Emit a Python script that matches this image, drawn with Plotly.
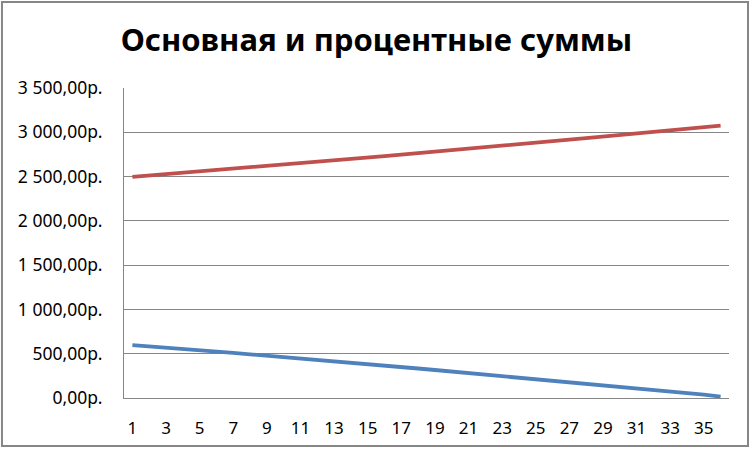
import plotly.graph_objects as go

periods = list(range(1, 37))
principal = [2497, 2512, 2527, 2542, 2558, 2573, 2588, 2604, 2619, 2635, 2651, 2667,
             2683, 2699, 2715, 2731, 2748, 2764, 2781, 2798, 2814, 2831, 2848, 2865,
             2883, 2900, 2917, 2935, 2952, 2970, 2988, 3006, 3024, 3042, 3060, 3076]
interest = [598, 585, 570, 555, 539, 524, 509, 493, 478, 462, 446, 430,
            414, 398, 382, 366, 349, 333, 316, 299, 283, 266, 249, 231,
            214, 197, 180, 162, 145, 127, 109, 91, 73, 55, 37, 16]
y_tickvals = [0, 500, 1000, 1500, 2000, 2500, 3000, 3500]
y_ticktext = ["0,00р.", "500,00р.", "1 000,00р.", "1 500,00р.", "2 000,00р.",
              "2 500,00р.", "3 000,00р.", "3 500,00р."]
x_tickvals = list(range(1, 37, 2))
title_text = "Основная и процентные суммы"

fig = go.Figure()
fig.add_trace(go.Scatter(x=periods, y=interest, mode="lines",
                         line=dict(color="#4F81BD", width=3.8), name="Проценты"))
fig.add_trace(go.Scatter(x=periods, y=principal, mode="lines",
                         line=dict(color="#C0504D", width=3.8), name="Основная"))

grid = "#868686"
fig.update_layout(
    width=753, height=451,
    margin=dict(l=124, r=24, t=88, b=53),
    paper_bgcolor="white", plot_bgcolor="white",
    showlegend=False,
    title=dict(text="<b>" + title_text + "</b>", x=0.5, xanchor="center",
               y=0.912, yanchor="middle", yref="container",
               font=dict(family="Noto Sans", size=31, color="black")),
    xaxis=dict(range=[0.5, 36.5], tickvals=x_tickvals, showgrid=False,
               showline=True, linecolor=grid, linewidth=1, ticks="",
               ticklabelstandoff=15,
               tickfont=dict(family="Noto Sans", size=17, color="black"),
               zeroline=False, fixedrange=True),
    yaxis=dict(range=[0, 3500], tickvals=y_tickvals, ticktext=y_ticktext,
               showgrid=True, gridcolor=grid, gridwidth=1,
               showline=True, linecolor=grid, linewidth=1, ticks="",
               ticklabelstandoff=17,
               tickfont=dict(family="Noto Sans", size=17.5, color="black"),
               zeroline=False, fixedrange=True),
    shapes=[dict(type="rect", xref="paper", yref="paper",
                 x0=-0.2017, x1=1.0314, y0=-0.1548, y1=1.2774,
                 line=dict(color=grid, width=2), layer="below")],
)
fig.write_html("out.html", config={"displayModeBar": False},
               post_script="document.body.style.margin='0';document.body.style.overflow='hidden';")
